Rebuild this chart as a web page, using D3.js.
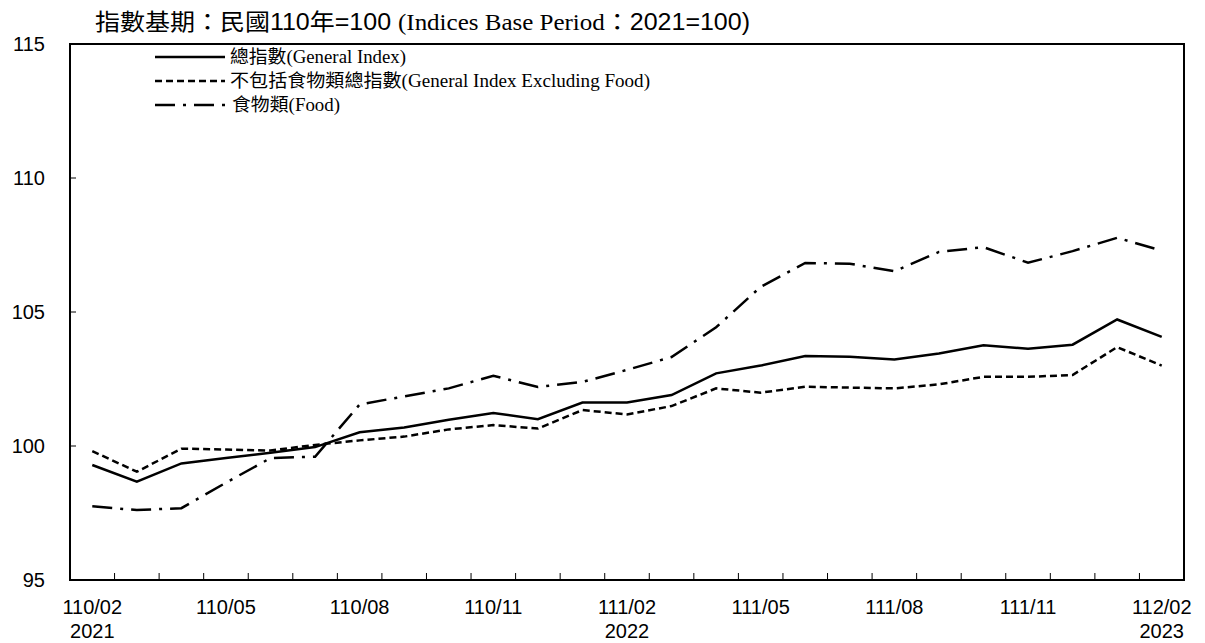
<!DOCTYPE html>
<html>
<head>
<meta charset="utf-8">
<script src="https://cdn.jsdelivr.net/npm/d3@7"></script>
<style>
  body { margin: 0; background: #fff; }
  svg text { fill: #000; }
</style>
</head>
<body>
<div id="chart"></div>
<script>
// months from 110/02 (2021/02) to 112/02 (2023/02)
const months = ['110/02','110/03','110/04','110/05','110/06','110/07','110/08','110/09','110/10','110/11','110/12',
  '111/01','111/02','111/03','111/04','111/05','111/06','111/07','111/08','111/09','111/10','111/11','111/12',
  '112/01','112/02'];
const tickLabels = ['110/02','110/05','110/08','110/11','111/02','111/05','111/08','111/11','112/02'];
const yearLabels = {'110/02': '2021', '111/02': '2022', '112/02': '2023'};
const yTicks = [95, 100, 105, 110, 115];

const general = [99.29, 98.67, 99.35, 99.55, 99.75, 99.96, 100.51, 100.69, 100.98, 101.23, 101.0, 101.62, 101.62,
  101.9, 102.71, 103.0, 103.36, 103.33, 103.23, 103.45, 103.76, 103.63, 103.78, 104.72, 104.07];
const exclFood = [99.81, 99.04, 99.9, 99.87, 99.83, 100.04, 100.21, 100.35, 100.62, 100.78, 100.65, 101.34, 101.18,
  101.49, 102.15, 101.99, 102.21, 102.18, 102.15, 102.3, 102.58, 102.58, 102.65, 103.69, 103.0];
const food = [97.75, 97.61, 97.68, 98.63, 99.55, 99.6, 101.55, 101.85, 102.15, 102.62, 102.2, 102.39, 102.84,
  103.32, 104.43, 105.94, 106.83, 106.8, 106.52, 107.24, 107.42, 106.84, 107.27, 107.77, 107.29];

const width = 1205, height = 643;
const margin = {top: 44, left: 70, right: 21, bottom: 63};

const svg = d3.select('#chart').append('svg')
  .attr('width', width).attr('height', height);

const x = d3.scaleBand().domain(months)
  .range([margin.left, width - margin.right]).padding(0);
const y = d3.scaleLinear().domain([95, 115])
  .range([height - margin.bottom, margin.top]);
const cx = function(m) { return x(m) + x.bandwidth() / 2; };

const sans = 'Arial, "Liberation Sans", "Noto Sans CJK TC", sans-serif';
const serif = '"Times New Roman", "Liberation Serif", "Noto Sans CJK TC", serif';

// title (stretched to the width it has in the original)
const title = svg.append('text').attr('x', 95).attr('y', 30)
  .attr('textLength', 655).attr('lengthAdjust', 'spacingAndGlyphs')
  .style('font-family', sans).style('font-size', '23px');
title.append('tspan').text('指數基期：民國110年=100 ');
title.append('tspan').style('font-family', serif).text('(Indices Base Period');
title.append('tspan').text('：2021=100)');

// frame
svg.append('rect')
  .attr('x', margin.left).attr('y', margin.top)
  .attr('width', width - margin.left - margin.right)
  .attr('height', height - margin.top - margin.bottom)
  .attr('fill', 'none').attr('stroke', '#000').attr('stroke-width', 2);

// x ticks at band edges, pointing inside
const edges = months.slice(1).map(function(m) { return x(m); });
svg.append('g').selectAll('line').data(edges).enter().append('line')
  .attr('x1', function(d) { return d; }).attr('x2', function(d) { return d; })
  .attr('y1', y(95)).attr('y2', y(95) - 7)
  .attr('stroke', '#000').attr('stroke-width', 1);

// y ticks inside
svg.append('g').selectAll('line').data(yTicks.slice(1, -1)).enter().append('line')
  .attr('x1', margin.left).attr('x2', margin.left + 6)
  .attr('y1', function(d) { return y(d); }).attr('y2', function(d) { return y(d); })
  .attr('stroke', '#000').attr('stroke-width', 1);

// y labels
svg.append('g').selectAll('text').data(yTicks).enter().append('text')
  .attr('x', 45).attr('y', function(d) { return y(d); })
  .attr('dy', '0.35em').attr('text-anchor', 'end')
  .style('font-family', sans).style('font-size', '20px')
  .text(function(d) { return d; });

// x labels
const xl = svg.append('g').selectAll('text').data(tickLabels).enter().append('text')
  .attr('x', function(d) { return cx(d); }).attr('y', 614)
  .attr('text-anchor', 'middle')
  .style('font-family', sans).style('font-size', '20px');
xl.append('tspan').attr('x', function(d) { return cx(d); }).text(function(d) { return d; });
xl.append('tspan').attr('x', function(d) { return cx(d); }).attr('dy', 24)
  .text(function(d) { return yearLabels[d] || ''; });

// series
const series = [
  {name: '總指數', en: '(General Index)', values: general, dash: null},
  {name: '不包括食物類總指數', en: '(General Index Excluding Food)', values: exclFood, dash: '7,4'},
  {name: '食物類', en: '(Food)', values: food, dash: '20,8,3,8'}
];

const line = d3.line()
  .x(function(d, i) { return cx(months[i]); })
  .y(function(d) { return y(d); });

series.forEach(function(s) {
  svg.append('path').datum(s.values)
    .attr('d', line)
    .attr('fill', 'none').attr('stroke', '#000')
    .attr('stroke-width', 2.5)
    .attr('stroke-dasharray', s.dash);
});

// legend
const legendTextWidth = [176, 420, 108];
const leg = svg.append('g').selectAll('g').data(series).enter().append('g')
  .attr('transform', function(d, i) { return 'translate(155,' + (57 + i * 24) + ')'; });
leg.append('line')
  .attr('x1', 0).attr('x2', 70).attr('y1', 0).attr('y2', 0)
  .attr('stroke', '#000').attr('stroke-width', 2.5)
  .attr('stroke-dasharray', function(d) { return d.dash; });
const lt = leg.append('text')
  .attr('x', function(d, i) { return i == 2 ? 77 : 75; }).attr('dy', '0.35em')
  .attr('textLength', function(d, i) { return legendTextWidth[i]; })
  .attr('lengthAdjust', 'spacingAndGlyphs')
  .style('font-family', serif).style('font-size', '18px');
lt.append('tspan').text(function(d) { return d.name; });
lt.append('tspan').text(function(d) { return d.en; });
</script>
</body>
</html>
